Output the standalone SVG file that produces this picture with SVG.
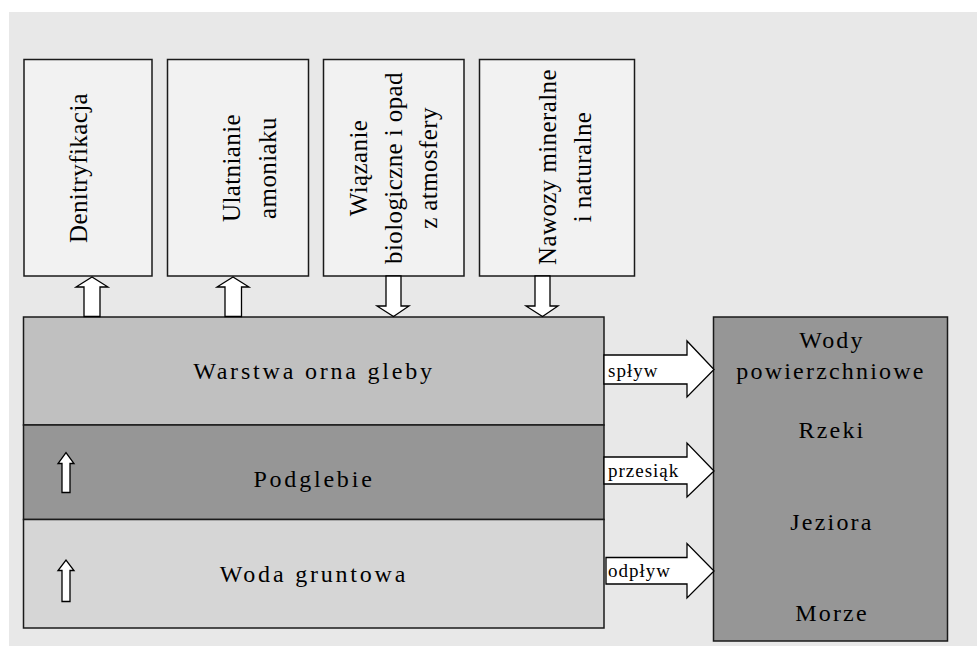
<svg xmlns="http://www.w3.org/2000/svg" width="977" height="646" viewBox="0 0 977 646">
<style>
.box{stroke:#1a1a1a;stroke-width:1.5}
.arr{fill:#fff;stroke:#000;stroke-width:1.3;stroke-linejoin:miter}
text{font-family:'Liberation Serif','Times New Roman',Times,serif;fill:#000}
.vt{font-size:25px;letter-spacing:0.4px;text-anchor:middle}
.lt{font-size:24px;letter-spacing:2.8px;text-anchor:middle}
.rt{font-size:24px;letter-spacing:2.2px;text-anchor:middle}
.al{font-size:19px;letter-spacing:1px}
</style>
<rect x="0" y="0" width="977" height="646" fill="#fff"/>
<rect x="9" y="12" width="968" height="634" fill="#e8e8e8"/>

<g id="denitryfikacja">
<rect class="box" x="24" y="59.5" width="128" height="216.5" fill="#f2f2f2"/>
<text class="vt" transform="translate(86.5,168) rotate(-90)">Denitryfikacja</text>
</g>
<g id="ulatnianie">
<rect class="box" x="167.5" y="59.5" width="141" height="216.5" fill="#f2f2f2"/>
<text class="vt" transform="translate(240,168) rotate(-90)">Ulatnianie</text>
<text class="vt" transform="translate(276,168) rotate(-90)">amoniaku</text>
</g>
<g id="wiazanie">
<rect class="box" x="323.5" y="59.5" width="140.5" height="216.5" fill="#f2f2f2"/>
<text class="vt" transform="translate(367,168) rotate(-90)">Wiązanie</text>
<text class="vt" transform="translate(402,168) rotate(-90)">biologiczne i opad</text>
<text class="vt" transform="translate(437,168) rotate(-90)">z atmosfery</text>
</g>
<g id="nawozy">
<rect class="box" x="479.5" y="59.5" width="155" height="216.5" fill="#f2f2f2"/>
<text class="vt" transform="translate(556,167) rotate(-90)">Nawozy mineralne</text>
<text class="vt" transform="translate(591,167) rotate(-90)">i naturalne</text>
</g>

<g id="warstwa-orna">
<rect class="box" x="23.5" y="317" width="580.5" height="108" fill="#c0c0c0"/>
<text class="lt" x="314" y="378.5">Warstwa orna gleby</text>
</g>
<g id="podglebie">
<rect class="box" x="23.5" y="425" width="580.5" height="94.5" fill="#969696"/>
<text class="lt" x="314" y="486.5">Podglebie</text>
</g>
<g id="woda-gruntowa">
<rect class="box" x="23.5" y="519.5" width="580.5" height="108.5" fill="#d6d6d6"/>
<text class="lt" x="314" y="581.5">Woda gruntowa</text>
</g>

<g id="wody-powierzchniowe">
<rect class="box" x="713.5" y="317" width="234" height="324" fill="#969696"/>
<text class="rt" x="832" y="347.5">Wody</text>
<text class="rt" x="831" y="378.5">powierzchniowe</text>
<text class="rt" x="832" y="438">Rzeki</text>
<text class="rt" x="832" y="530">Jeziora</text>
<text class="rt" x="832" y="621">Morze</text>
</g>

<g id="connectors">
<polygon class="arr" points="84,316.5 84,287 76,287 92,277 108,287 100,287 100,316.5"/>
<polygon class="arr" points="225,316.5 225,287 217,287 233,277 249,287 241.5,287 241.5,316.5"/>
<polygon class="arr" points="386,276 401,276 401,306 409,306 393.5,316.5 377,306 386,306"/>
<polygon class="arr" points="535,276 550,276 550,306 558,306 542.5,316.5 526,306 535,306"/>
<polygon class="arr" points="604,355 687,355 687,341 714,369.5 687,397 687,384 604,384"/>
<polygon class="arr" points="604,457 687,457 687,443 714,471 687,497 687,484 604,484"/>
<polygon class="arr" points="606,557.5 687,557.5 687,543.5 714,571 687,598 687,584 606,584"/>
<polygon class="arr" points="62,492.5 62,463.5 58,463.5 66,452.5 74,463.5 70,463.5 70,492.5"/>
<polygon class="arr" points="62,601.5 62,570.5 58,570.5 66,560 74,570.5 70,570.5 70,601.5"/>
<text class="al" x="608" y="377">spływ</text>
<text class="al" x="608" y="477">przesiąk</text>
<text class="al" x="608" y="577">odpływ</text>
</g>
</svg>
